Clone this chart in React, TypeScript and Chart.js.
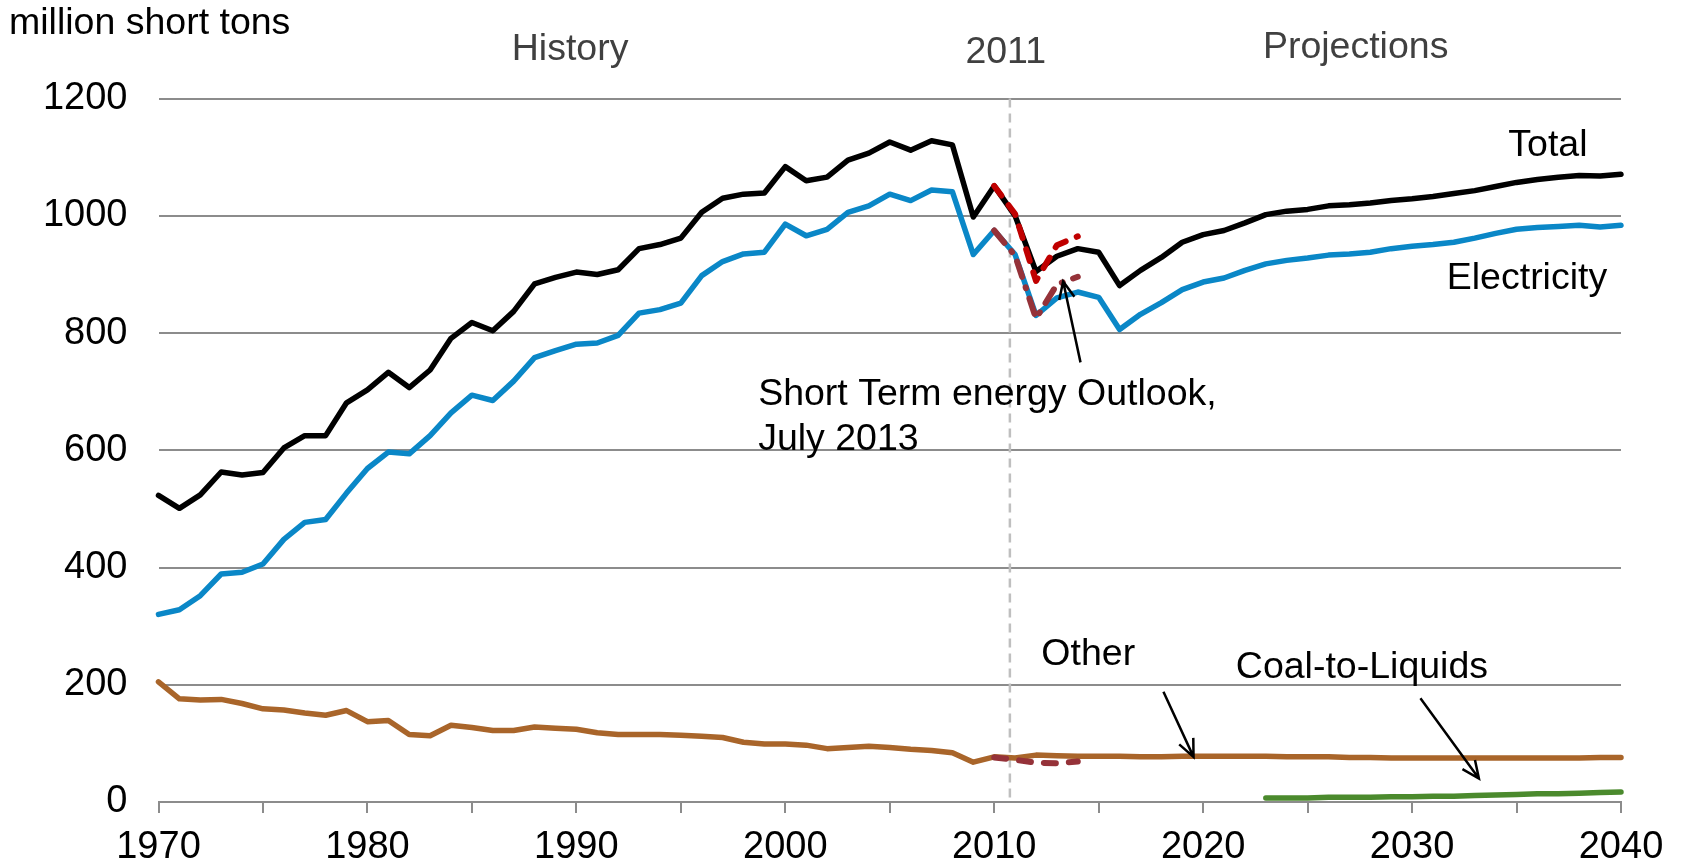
import React, { useEffect, useRef } from "react";
import { Chart, registerables } from "chart.js";

Chart.register(...registerables);

// ---------- data ----------
const years = [
  1970, 1971, 1972, 1973, 1974, 1975, 1976, 1977, 1978, 1979,
  1980, 1981, 1982, 1983, 1984, 1985, 1986, 1987, 1988, 1989,
  1990, 1991, 1992, 1993, 1994, 1995, 1996, 1997, 1998, 1999,
  2000, 2001, 2002, 2003, 2004, 2005, 2006, 2007, 2008, 2009,
  2010, 2011, 2012, 2013, 2014, 2015, 2016, 2017, 2018, 2019,
  2020, 2021, 2022, 2023, 2024, 2025, 2026, 2027, 2028, 2029,
  2030, 2031, 2032, 2033, 2034, 2035, 2036, 2037, 2038, 2039,
  2040,
];

const totalValues = [
  523, 501, 524, 563, 558, 562, 604, 625, 625, 681,
  703, 733, 707, 737, 791, 818, 804, 837, 884, 895,
  904, 900, 908, 944, 951, 962, 1006, 1030, 1037, 1039,
  1084, 1060, 1066, 1095, 1107, 1126, 1112, 1128, 1121, 998,
  1051, 1000, 905, 931, 944, 938, 881, 907, 929, 955,
  968, 975, 988, 1002, 1008, 1011, 1017, 1019, 1022, 1026,
  1029, 1033, 1038, 1043, 1050, 1057, 1062, 1066, 1069, 1068,
  1071,
];

const electricityValues = [
  320, 328, 352, 389, 392, 406, 448, 477, 482, 527,
  569, 597, 594, 625, 664, 694, 685, 718, 758, 770,
  781, 783, 796, 834, 840, 851, 898, 922, 935, 938,
  986, 966, 977, 1006, 1017, 1037, 1026, 1044, 1041, 934,
  975, 934, 830, 860, 870, 861, 806, 832, 852, 874,
  887, 894, 907, 918, 924, 928, 933, 935, 938, 944,
  948, 951, 955, 962, 970, 977, 980, 982, 984, 981,
  984,
];

const otherValues = [
  205, 176, 174, 175, 168, 159, 157, 152, 148, 156,
  137, 139, 115, 113, 131, 127, 122, 122, 128, 126,
  124, 118, 115, 115, 115, 114, 112, 110, 102, 99,
  99, 97, 91, 93, 95, 93, 90, 88, 84, 68,
  77, 75, 80, 79, 78, 78, 78, 77, 77, 78,
  78, 78, 78, 78, 77, 77, 77, 76, 76, 75,
  75, 75, 75, 75, 75, 75, 75, 75, 75, 76,
  76,
];

const ctlYears = [2023, 2024, 2025, 2026, 2027, 2028, 2029, 2030, 2031, 2032, 2033, 2034, 2035, 2036, 2037, 2038, 2039, 2040];
const ctlValues = [7, 7, 7, 8, 8, 8, 9, 9, 10, 10, 11, 12, 13, 14, 14, 15, 16, 17];

const steoYears = [2010, 2011, 2012, 2013, 2014];
const steoTotal = [1051, 1003, 889, 950, 965];
const steoElectricity = [975, 932, 825, 883, 896];
const steoOther = [76, 72, 67, 66, 69];

const yTickValues = [0, 200, 400, 600, 800, 1000, 1200];
const xTickLabels = ["1970", "1980", "1990", "2000", "2010", "2020", "2030", "2040"];

const dividerYear = 2010.75;

// ---------- helpers ----------
const FONT = '"Liberation Sans", Arial, Helvetica, sans-serif';
const NOTE_SIZE = 37.5;
const TICK_SIZE = 38;

function pts(xs: number[], ys: number[]) {
  return xs.map((x, i) => ({ x, y: ys[i] }));
}

function drawArrow(ctx: CanvasRenderingContext2D, x1: number, y1: number, x2: number, y2: number) {
  const ang = Math.atan2(y2 - y1, x2 - x1);
  const len = 19;
  const spread = 0.42;
  ctx.beginPath();
  ctx.moveTo(x1, y1);
  ctx.lineTo(x2, y2);
  ctx.moveTo(x2 - len * Math.cos(ang - spread), y2 - len * Math.sin(ang - spread));
  ctx.lineTo(x2, y2);
  ctx.lineTo(x2 - len * Math.cos(ang + spread), y2 - len * Math.sin(ang + spread));
  ctx.stroke();
}

// annotations in data space: [text, year, value, align, color]
const textNotes: [string, number, number, CanvasTextAlign, string][] = [
  ["History", 1989.7, 1284, "center", "#404040"],
  ["2011", 2010.55, 1279, "center", "#404040"],
  ["Projections", 2027.3, 1287, "center", "#404040"],
  ["Total", 2036.5, 1120, "center", "#000000"],
  ["Electricity", 2035.5, 893, "center", "#000000"],
  ["Short Term energy Outlook,", 1998.7, 695, "left", "#000000"],
  ["July 2013", 1998.7, 618, "left", "#000000"],
  ["Other", 2014.5, 251, "center", "#000000"],
  ["Coal-to-Liquids", 2027.6, 230, "center", "#000000"],
];

// arrows in data space: [tailYear, tailValue, headYear, headValue]
const arrowNotes: [number, number, number, number][] = [
  [2014.13, 750, 2013.3, 888],
  [2018.1, 188, 2019.54, 77],
  [2030.4, 177, 2033.2, 40],
];

const annotationPlugin = {
  id: "annotations",
  beforeDatasetsDraw(chart: any) {
    const { ctx, scales } = chart;
    const x = scales.x.getPixelForValue(dividerYear);
    ctx.save();
    ctx.strokeStyle = "#BFBFBF";
    ctx.lineWidth = 2.5;
    ctx.setLineDash([9, 6]);
    ctx.beginPath();
    ctx.moveTo(x, scales.y.getPixelForValue(1200));
    ctx.lineTo(x, scales.y.getPixelForValue(0));
    ctx.stroke();
    ctx.restore();
  },
  afterDraw(chart: any) {
    const { ctx, scales } = chart;
    ctx.save();
    ctx.font = `${NOTE_SIZE}px ${FONT}`;
    ctx.textBaseline = "middle";
    ctx.fillStyle = "#000000";
    ctx.textAlign = "left";
    ctx.fillText("million short tons", 9, 24);
    for (const [t, xv, yv, align, color] of textNotes) {
      ctx.fillStyle = color;
      ctx.textAlign = align;
      ctx.fillText(t, scales.x.getPixelForValue(xv), scales.y.getPixelForValue(yv));
    }
    ctx.strokeStyle = "#000000";
    ctx.lineWidth = 2.5;
    ctx.lineCap = "butt";
    for (const [x1, y1, x2, y2] of arrowNotes) {
      drawArrow(
        ctx,
        scales.x.getPixelForValue(x1),
        scales.y.getPixelForValue(y1),
        scales.x.getPixelForValue(x2),
        scales.y.getPixelForValue(y2)
      );
    }
    ctx.restore();
  },
};

function lineDs(label: string, data: any[], color: string, width: number, dash: number[] = []) {
  return {
    label,
    data,
    borderColor: color,
    backgroundColor: color,
    borderWidth: width,
    borderDash: dash,
    borderCapStyle: "round" as const,
    borderJoinStyle: "round" as const,
    pointRadius: 0,
    pointHoverRadius: 0,
    tension: 0,
    fill: false,
    clip: false as any,
  };
}

export default function App() {
  const canvasRef = useRef<HTMLCanvasElement | null>(null);

  useEffect(() => {
    document.body.style.margin = "0";
    document.body.style.overflow = "hidden";
    const canvas = canvasRef.current;
    if (!canvas) return;
    const chart = new Chart(canvas, {
      type: "line",
      data: {
        // index 0 is drawn last (on top)
        datasets: [
          lineDs("STEO Total", pts(steoYears, steoTotal), "#C00000", 6, [12, 12]),
          lineDs("STEO Electricity", pts(steoYears, steoElectricity), "#953239", 6, [16, 11, 1, 11]),
          lineDs("STEO Other", pts(steoYears, steoOther), "#953239", 6, [12, 13]),
          lineDs("Total", pts(years, totalValues), "#000000", 5.5),
          lineDs("Electricity", pts(years, electricityValues), "#0A87C7", 5.5),
          lineDs("Other", pts(years, otherValues), "#A9652A", 5.5),
          lineDs("Coal-to-Liquids", pts(ctlYears, ctlValues), "#4B8A2D", 5.5),
        ] as any,
      },
      options: {
        animation: false,
        responsive: true,
        maintainAspectRatio: false,
        layout: { padding: { left: 0, right: 60, top: 98.6, bottom: 0 } },
        plugins: {
          legend: { display: false },
          tooltip: { enabled: false },
          title: { display: false },
        },
        scales: {
          x: {
            type: "linear",
            min: 1970,
            max: 2040,
            afterFit: (s: any) => {
              s.height = 62;
            },
            afterBuildTicks: (s: any) => {
              s.ticks = years.filter((y) => y % 5 === 0).map((v) => ({ value: v }));
            },
            ticks: {
              autoSkip: false,
              maxRotation: 0,
              minRotation: 0,
              padding: 12,
              color: "#000000",
              font: { family: FONT, size: TICK_SIZE },
              callback: (v: any) => {
                const s = String(v);
                return xTickLabels.includes(s) ? s : "";
              },
            },
            grid: {
              drawOnChartArea: false,
              drawTicks: true,
              tickLength: 11,
              color: "#8C8C8C",
              lineWidth: 2,
            },
            border: { display: true, color: "#8C8C8C", width: 2 },
          },
          y: {
            type: "linear",
            min: 0,
            max: 1200,
            afterFit: (s: any) => {
              s.width = 158.5;
            },
            afterBuildTicks: (s: any) => {
              s.ticks = yTickValues.map((v) => ({ value: v }));
            },
            ticks: {
              padding: 31,
              color: "#000000",
              font: { family: FONT, size: TICK_SIZE },
              callback: (v: any) => String(v),
            },
            grid: {
              drawTicks: false,
              color: "#8C8C8C",
              lineWidth: 2,
            },
            border: { display: false },
          },
        },
      },
      plugins: [annotationPlugin],
    });
    return () => chart.destroy();
  }, []);

  return (
    <div style={{ position: "relative", width: "1681px", height: "864px" }}>
      <canvas ref={canvasRef} />
    </div>
  );
}
